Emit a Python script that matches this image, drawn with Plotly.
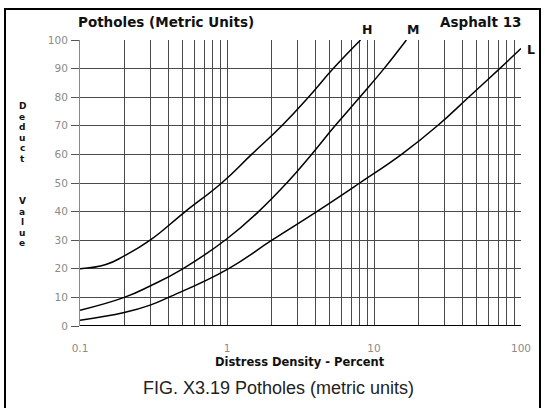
import plotly.graph_objects as go

# Distress density (%) and deduct values
h_x = [0.1, 0.15, 0.2, 0.3, 0.52, 0.92, 1.47, 2.36, 3.58, 5.28, 8.1]
h_y = [20, 21.5, 24.5, 30, 40, 50, 60, 70, 80, 90, 100]

m_x = [0.1, 0.2, 0.3, 0.5, 1.0, 1.64, 2.55, 3.76, 5.43, 8.0, 11.7, 16.6]
m_y = [5.5, 10, 14, 20, 30.5, 40, 50, 60, 70, 80, 90, 100]

l_x = [0.1, 0.2, 0.3, 0.4, 1.02, 2.02, 4.08, 8.0, 15.4, 27, 44, 71.6, 100]
l_y = [2, 4.7, 7.3, 10, 20, 30, 40, 50, 60, 70, 80, 90, 97]

x_major = [0.1, 1, 10, 100]
x_major_labels = ["0.1", "1", "10", "100"]
x_minor = [0.2, 0.3, 0.4, 0.5, 0.6, 0.7, 0.8, 0.9,
           2, 3, 4, 5, 6, 7, 8, 9,
           20, 30, 40, 50, 60, 70, 80, 90]
y_ticks = [0, 10, 20, 30, 40, 50, 60, 70, 80, 90, 100]

W, H = 545, 408
ML, MR, MT, MB = 80, 24, 40, 82
PW, PH = W - ML - MR, H - MT - MB


def px(x):
    return (x - ML) / PW


def py(y):
    return (H - MB - y) / PH


fig = go.Figure()
for xs, ys in [(h_x, h_y), (m_x, m_y), (l_x, l_y)]:
    fig.add_trace(go.Scatter(x=xs, y=ys, mode="lines",
                             line=dict(color="black", width=1.5, shape="spline", smoothing=1.3),
                             showlegend=False, hoverinfo="skip"))

grid_col = "#4a4a4a"
tick_font = dict(family="DejaVu Sans", size=10.5, color="#8a8a8a")
fig.update_layout(
    width=W, height=H,
    margin=dict(l=ML, r=MR, t=MT, b=MB, pad=0),
    paper_bgcolor="white", plot_bgcolor="white",
    xaxis=dict(type="log", range=[-1, 2], tickvals=x_major, ticktext=x_major_labels,
               showgrid=True, gridcolor=grid_col, gridwidth=1,
               minor=dict(tickvals=x_minor, showgrid=True, gridcolor=grid_col, gridwidth=1),
               zeroline=False, showline=False, ticks="",
               tickfont=tick_font, ticklabelstandoff=14),
    yaxis=dict(range=[0, 100], tickvals=y_ticks, showgrid=True, gridcolor=grid_col, gridwidth=1,
               zeroline=False, showline=True, linecolor="#888", linewidth=1,
               ticks="outside", ticklen=8, tickcolor="#555",
               tickfont=tick_font, ticklabelstandoff=1),
)

# bold base line at zero
fig.add_shape(type="line", xref="paper", yref="y", x0=0, x1=1, y0=0, y1=0,
              line=dict(color="black", width=2))

# outer frame
fig.add_shape(type="rect", xref="paper", yref="paper",
              x0=px(5), x1=px(540), y0=py(9), y1=py(412),
              line=dict(color="black", width=2), layer="above")


def text(t, x, y, size, bold=True, color="#111", family="DejaVu Sans", xanchor="center"):
    fig.add_annotation(text=f"<b>{t}</b>" if bold else t, xref="paper", yref="paper",
                       x=px(x), y=py(y), xanchor=xanchor, yanchor="middle", showarrow=False,
                       font=dict(family=family, size=size, color=color))


text("Potholes (Metric Units)", 166, 22, 13.5)
text("Asphalt 13", 480, 22, 13.5)
text("H", 367, 30, 12.5)
text("M", 413, 30, 12.5)
text("L", 531, 49, 12.5)
text("Distress Density - Percent", 300, 362, 11.5)
text("FIG. X3.19 Potholes (metric units)", 278, 388, 18, bold=False, color="#222",
     family="Liberation Sans")

for i, ch in enumerate("Deduct"):
    text(ch, 22, 106 + i * 10.6, 9)
for i, ch in enumerate("Value"):
    text(ch, 22, 201 + i * 10.6, 9)

fig.write_html("out.html")
